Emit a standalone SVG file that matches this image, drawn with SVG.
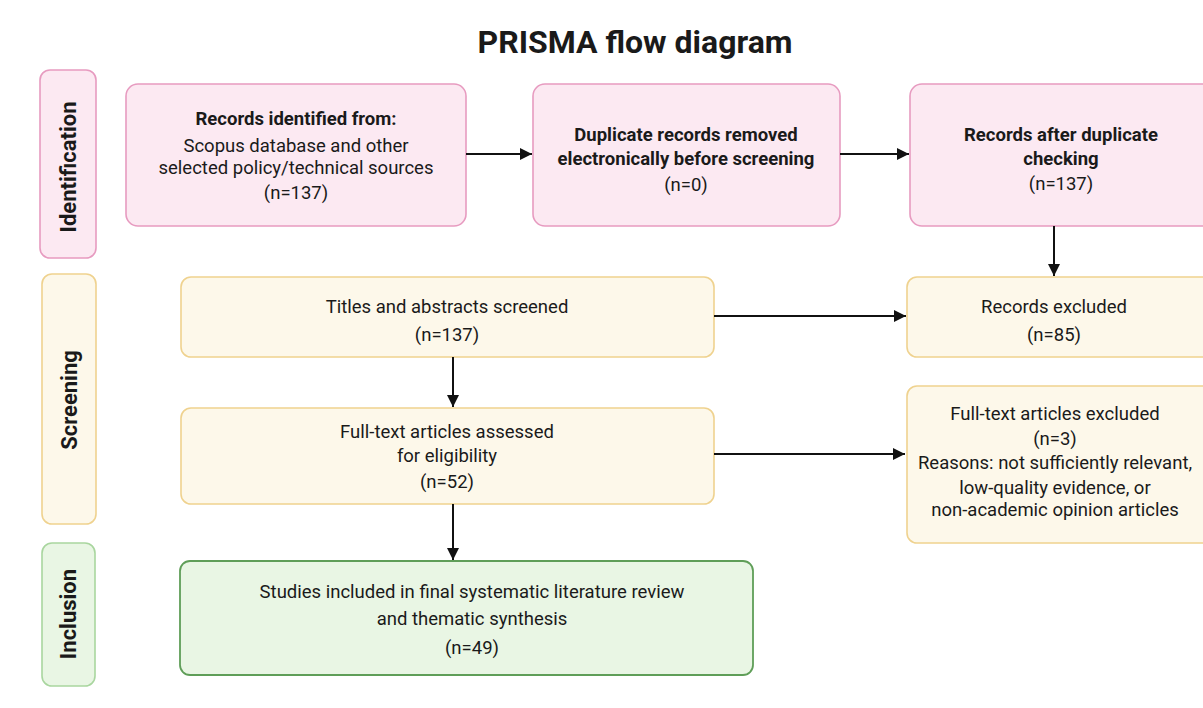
<svg xmlns="http://www.w3.org/2000/svg" width="1203" height="708" viewBox="0 0 1203 708">
<style>
text{font-family:Roboto,"Liberation Sans",sans-serif;fill:#1a1a1a;text-anchor:middle}
.t{font-size:32px;font-weight:bold}
.b{font-size:18.5px;font-weight:bold}
.n{font-size:18.5px}
.side{font-size:22px;font-weight:bold}
.pink{fill:#fce9f2;stroke:#e79bc0;stroke-width:1.6}
.yel{fill:#fdf8ea;stroke:#efd28f;stroke-width:1.6}
.grn{fill:#e9f6e4;stroke:#5f9e58;stroke-width:1.8}
.grnside{fill:#e9f6e4;stroke:#a9d69f;stroke-width:1.6}
.c{stroke:#111;stroke-width:2;fill:none;marker-end:url(#ah)}
</style>
<defs>
<marker id="ah" viewBox="0 0 10 10" refX="10" refY="5" markerWidth="6" markerHeight="6" markerUnits="strokeWidth" orient="auto">
<path d="M0,0 L10,5 L0,10 z" fill="#111"/>
</marker>
</defs>
<rect width="1203" height="708" fill="#ffffff"/>
<text class="t" x="635" y="53">PRISMA flow diagram</text>

<g id="phase-identification">
<rect class="pink" x="40" y="70" width="56" height="188" rx="10"/>
<text class="side" transform="translate(76,167) rotate(-90)">Identification</text>
</g>
<g id="phase-screening">
<rect class="yel" x="42" y="274" width="54" height="250" rx="10"/>
<text class="side" transform="translate(77,400) rotate(-90)">Screening</text>
</g>
<g id="phase-inclusion">
<rect class="grnside" x="42" y="543" width="53" height="143" rx="10"/>
<text class="side" transform="translate(76,614) rotate(-90)">Inclusion</text>
</g>

<g id="records-identified">
<rect class="pink" x="126" y="84" width="340" height="142" rx="12"/>
<text class="b" x="296" y="125">Records identified from:</text>
<text class="n" x="296" y="152">Scopus database and other</text>
<text class="n" x="296" y="174">selected policy/technical sources</text>
<text class="n" x="296" y="199">(n=137)</text>
</g>
<g id="duplicates-removed">
<rect class="pink" x="533" y="84" width="307" height="142" rx="12"/>
<text class="b" x="686" y="141">Duplicate records removed</text>
<text class="b" x="686" y="165">electronically before screening</text>
<text class="n" x="686" y="191">(n=0)</text>
</g>
<g id="records-after-duplicates">
<rect class="pink" x="910" y="84" width="310" height="142" rx="12"/>
<text class="b" x="1061" y="141">Records after duplicate</text>
<text class="b" x="1061" y="165">checking</text>
<text class="n" x="1061" y="190">(n=137)</text>
</g>
<g id="titles-screened">
<rect class="yel" x="181" y="277" width="533" height="80" rx="10"/>
<text class="n" x="447" y="313">Titles and abstracts screened</text>
<text class="n" x="447" y="341">(n=137)</text>
</g>
<g id="records-excluded">
<rect class="yel" x="907" y="277" width="310" height="80" rx="10"/>
<text class="n" x="1054" y="313">Records excluded</text>
<text class="n" x="1054" y="341">(n=85)</text>
</g>
<g id="fulltext-assessed">
<rect class="yel" x="181" y="408" width="533" height="96" rx="10"/>
<text class="n" x="447" y="438">Full-text articles assessed</text>
<text class="n" x="447" y="462">for eligibility</text>
<text class="n" x="447" y="488">(n=52)</text>
</g>
<g id="fulltext-excluded">
<rect class="yel" x="907" y="386" width="310" height="157" rx="10"/>
<text class="n" x="1055" y="420">Full-text articles excluded</text>
<text class="n" x="1055" y="445">(n=3)</text>
<text class="n" x="1055" y="469">Reasons: not sufficiently relevant,</text>
<text class="n" x="1055" y="494">low-quality evidence, or</text>
<text class="n" x="1055" y="516">non-academic opinion articles</text>
</g>
<g id="studies-included">
<rect class="grn" x="180" y="561" width="573" height="114" rx="10"/>
<text class="n" x="472" y="598">Studies included in final systematic literature review</text>
<text class="n" x="472" y="625">and thematic synthesis</text>
<text class="n" x="472" y="654">(n=49)</text>
</g>

<g id="connectors">
<line class="c" x1="466" y1="154" x2="532" y2="154"/>
<line class="c" x1="840" y1="154" x2="909" y2="154"/>
<line class="c" x1="1054" y1="226" x2="1054" y2="276"/>
<line class="c" x1="714" y1="316" x2="906" y2="316"/>
<line class="c" x1="453" y1="357" x2="453" y2="407"/>
<line class="c" x1="714" y1="454" x2="905" y2="454"/>
<line class="c" x1="453" y1="504" x2="453" y2="560"/>
</g>
</svg>
